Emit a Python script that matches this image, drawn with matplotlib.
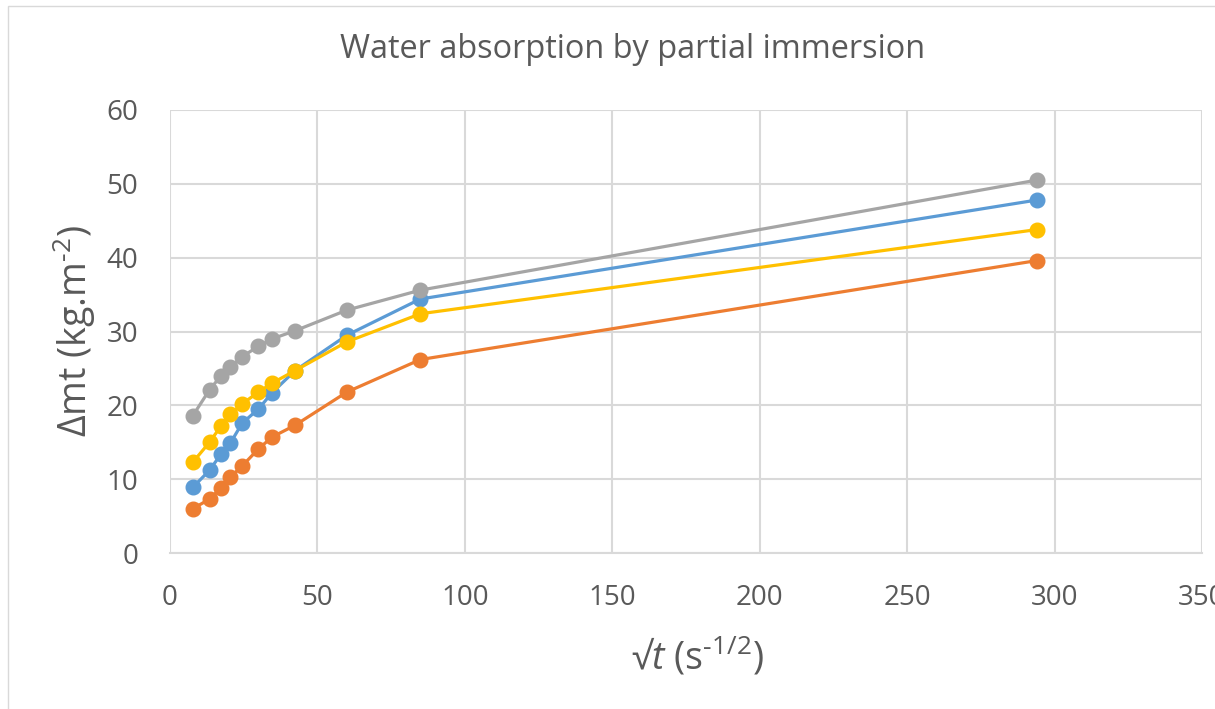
import matplotlib
matplotlib.use("Agg")
import matplotlib.pyplot as plt
from matplotlib.patches import Rectangle

x_sqrt_t = [7.75, 13.4, 17.3, 20.5, 24.5, 30.0, 34.6, 42.4, 60.0, 84.9, 293.9]
series_blue = [8.9, 11.2, 13.4, 14.9, 17.6, 19.5, 21.7, 24.7, 29.5, 34.4, 47.8]
series_orange = [6.0, 7.3, 8.8, 10.3, 11.8, 14.1, 15.7, 17.3, 21.8, 26.2, 39.6]
series_gray = [18.6, 22.1, 24.0, 25.2, 26.6, 28.0, 29.0, 30.1, 32.9, 35.6, 50.5]
series_yellow = [12.3, 15.0, 17.2, 18.8, 20.2, 21.8, 23.0, 24.7, 28.6, 32.4, 43.8]
x_ticks = [0, 50, 100, 150, 200, 250, 300, 350]
y_ticks = [0, 10, 20, 30, 40, 50, 60]

plt.rcParams['font.family'] = ['Open Sans', 'DejaVu Sans']
plt.rcParams['mathtext.fontset'] = 'custom'
plt.rcParams['mathtext.rm'] = 'Open Sans'
plt.rcParams['mathtext.it'] = 'Open Sans:italic'

fig = plt.figure(figsize=(12.15, 7.09), dpi=100)
W, H = 1215, 709
ax = fig.add_axes([170 / W, 1 - 553 / H, (1202 - 170) / W, (553 - 110) / H])

fig.patches.append(Rectangle((8 / W, -0.1), 1.2, 1 - 6 / H + 0.1, transform=fig.transFigure,
                             fill=False, edgecolor='#D9D9D9', linewidth=1.0))

colors = {'blue': '#5B9BD5', 'orange': '#ED7D31', 'gray': '#A5A5A5', 'yellow': '#FFC000'}
for ys, c in [(series_blue, colors['blue']), (series_orange, colors['orange']),
              (series_gray, colors['gray']), (series_yellow, colors['yellow'])]:
    ax.plot(x_sqrt_t, ys, color=c, linewidth=2.3, marker='o', markersize=10.5,
            markeredgecolor=c, markerfacecolor=c, clip_on=False, zorder=3)

ax.set_xlim(0, 350)
ax.set_ylim(0, 60)
ax.set_xticks(x_ticks)
ax.set_yticks(y_ticks)
ax.grid(True, color='#D9D9D9', linewidth=1.5)
ax.set_axisbelow(True)
for s in ['top', 'right', 'left']:
    ax.spines[s].set_visible(False)
ax.spines['bottom'].set_color('#D9D9D9')
ax.spines['bottom'].set_linewidth(1.5)
ax.tick_params(length=0, labelsize=20, colors='#595959')
ax.tick_params(axis='x', pad=22)
ax.tick_params(axis='y', pad=23)

fig.text(633 / W, 1 - 50 / H, 'Water absorption by partial immersion', ha='center', va='center',
         fontsize=23.4, color='#595959')
fig.text(74 / W, 1 - 331 / H, 'Δmt (kg.m$^{\\mathrm{\u2010}2}$)', ha='center', va='center', rotation=90,
         fontsize=27, color='#595959')
fig.text(698 / W, 1 - 657 / H, '√$t$ (s$^{\\mathrm{\u2010}1/2}$)', ha='center', va='center',
         fontsize=27, color='#595959')

fig.savefig('out.png', dpi=100)
